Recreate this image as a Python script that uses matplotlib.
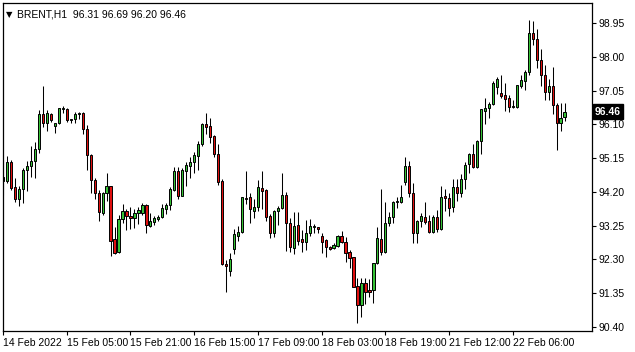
import numpy
import matplotlib
matplotlib.use('Agg')
import matplotlib.pyplot as plt
import matplotlib.transforms as mtransforms

plt.rcParams['font.family'] = ['Liberation Sans', 'DejaVu Sans']

#Hourly BRENT candles (open, high, low, close)
opens = [94.63, 94.51, 95.03, 94.33, 93.99, 94.27, 94.83, 94.92, 95.07, 95.42,
         96.39, 96.13, 96.39, 96.05, 96.13, 96.52, 96.52, 96.22, 96.24, 96.39,
         96.43, 95.96, 95.23, 94.53, 94.16, 93.61, 94.16, 94.36, 92.87, 92.52,
         93.43, 93.67, 93.52, 93.46, 93.60, 93.61, 93.82, 93.25, 93.34, 93.44,
         93.48, 93.71, 93.83, 94.25, 94.79, 94.09, 94.79, 94.93, 95.05, 95.21,
         95.54, 96.10, 96.05, 95.77, 95.28, 94.50, 92.17, 91.98, 92.59, 92.97,
         93.06, 94.02, 94.05, 93.67, 93.78, 94.30, 94.25, 93.52, 93.03, 93.67,
         93.74, 94.11, 93.32, 92.61, 93.27, 92.87, 92.80, 93.05, 93.20, 93.20,
         92.96, 92.85, 92.64, 92.61, 92.68, 92.96, 92.78, 92.50, 92.36, 91.55,
         91.01, 91.63, 91.44, 91.44, 92.19, 92.87, 92.50, 93.32, 93.48, 93.91,
         93.91, 94.48, 94.93, 94.16, 93.03, 93.38, 93.48, 93.38, 93.08, 93.50,
         93.15, 94.08, 94.02, 93.78, 94.33, 94.18, 94.55, 94.98, 95.26, 94.91,
         95.64, 96.48, 96.56, 96.66, 97.15, 96.97, 96.92, 96.83, 96.59, 96.59,
         97.18, 97.32, 97.58, 98.68, 98.51, 97.92, 97.50, 97.01, 97.17, 96.64,
         96.15, 96.31]
highs = [95.09, 95.21, 95.09, 94.58, 94.36, 94.86, 95.07, 95.49, 95.61, 96.50,
         97.17, 96.50, 96.43, 96.14, 96.57, 96.61, 96.55, 96.24, 96.44, 96.44,
         96.46, 96.08, 95.28, 94.58, 94.25, 94.20, 94.72, 94.36, 93.22, 93.55,
         93.86, 93.71, 93.77, 93.72, 93.78, 93.89, 93.86, 93.60, 93.52, 93.54,
         93.86, 93.88, 94.34, 94.91, 94.91, 94.86, 95.05, 95.19, 95.33, 95.64,
         96.13, 96.41, 96.29, 95.80, 95.54, 94.55, 92.28, 92.47, 93.17, 93.24,
         94.07, 94.78, 94.16, 93.99, 94.53, 94.78, 94.28, 93.58, 93.69, 93.80,
         94.72, 94.20, 93.46, 93.64, 93.64, 93.13, 93.41, 93.44, 93.30, 93.22,
         93.03, 92.87, 92.68, 92.75, 92.99, 93.11, 92.94, 92.57, 92.38, 91.77,
         91.77, 91.77, 91.74, 92.19, 93.20, 94.27, 93.92, 93.64, 93.95, 94.06,
         94.39, 95.17, 95.07, 94.44, 93.41, 93.60, 93.92, 93.55, 93.55, 93.69,
         94.36, 94.28, 94.16, 94.56, 94.56, 94.69, 95.05, 95.30, 95.54, 95.66,
         96.52, 96.83, 96.72, 97.31, 97.43, 97.48, 97.25, 96.92, 96.78, 97.22,
         97.48, 97.62, 99.03, 99.00, 98.79, 98.23, 97.78, 97.39, 97.72, 96.69,
         96.69, 96.69]
lows = [94.11, 94.44, 94.25, 93.92, 93.81, 93.88, 94.23, 94.63, 94.58, 95.30,
        96.03, 95.92, 96.17, 95.86, 96.10, 96.41, 96.17, 96.13, 96.13, 96.24,
        95.84, 94.83, 94.16, 94.00, 93.39, 93.55, 93.95, 92.40, 92.45, 92.47,
        93.33, 93.13, 93.15, 93.18, 93.30, 93.55, 93.05, 93.22, 93.27, 93.39,
        93.46, 93.57, 93.69, 94.22, 94.00, 94.09, 94.36, 94.60, 94.74, 94.81,
        95.49, 95.82, 95.58, 95.19, 94.39, 92.14, 91.39, 91.83, 92.44, 92.83,
        93.04, 93.86, 93.32, 93.46, 93.67, 93.72, 93.39, 92.89, 92.94, 93.27,
        93.71, 92.55, 92.52, 92.45, 92.71, 92.52, 92.57, 92.96, 93.05, 93.05,
        92.47, 92.36, 92.57, 92.59, 92.66, 92.75, 92.24, 92.07, 91.52, 90.50,
        90.69, 91.05, 91.25, 91.07, 92.17, 92.42, 92.47, 93.24, 93.32, 93.74,
        93.89, 94.39, 94.06, 92.75, 92.77, 93.20, 93.30, 93.03, 93.03, 93.08,
        93.13, 93.67, 93.53, 93.64, 93.94, 94.06, 94.28, 94.72, 94.88, 94.88,
        95.28, 96.11, 96.29, 96.64, 96.96, 96.83, 96.48, 96.45, 96.56, 96.56,
        97.13, 97.06, 97.50, 98.33, 97.70, 97.18, 96.78, 96.78, 96.38, 95.38,
        95.92, 96.20]
closes = [94.50, 95.03, 94.32, 93.99, 94.27, 94.81, 94.92, 95.07, 95.42, 96.39,
          96.13, 96.41, 96.22, 96.13, 96.55, 96.55, 96.22, 96.24, 96.39, 96.41,
          95.97, 95.25, 94.53, 94.16, 93.64, 94.16, 94.38, 92.83, 92.49, 93.43,
          93.67, 93.52, 93.46, 93.62, 93.69, 93.82, 93.26, 93.38, 93.46, 93.50,
          93.74, 93.83, 94.28, 94.79, 94.09, 94.81, 94.95, 95.05, 95.23, 95.54,
          96.10, 96.03, 95.75, 95.28, 94.48, 92.16, 92.12, 92.30, 93.01, 93.06,
          94.05, 94.00, 93.71, 93.78, 94.33, 94.23, 93.50, 93.05, 93.66, 93.75,
          94.11, 93.32, 92.64, 93.24, 92.83, 92.80, 93.03, 93.24, 93.24, 93.16,
          92.80, 92.66, 92.59, 92.71, 92.96, 92.80, 92.49, 92.35, 91.53, 91.01,
          91.63, 91.37, 91.37, 92.19, 92.89, 92.50, 93.32, 93.48, 93.92, 93.94,
          94.05, 94.93, 94.16, 93.03, 93.38, 93.52, 93.36, 93.08, 93.48, 93.15,
          94.05, 94.02, 93.75, 94.33, 94.18, 94.55, 94.95, 95.26, 94.91, 95.64,
          96.52, 96.57, 96.67, 97.25, 97.37, 96.90, 96.80, 96.59, 96.62, 97.20,
          97.34, 97.56, 98.68, 98.49, 97.92, 97.50, 97.01, 97.17, 96.64, 96.15,
          96.29, 96.46]

#Axis labels
price_ticks = [90.40, 91.35, 92.30, 93.25, 94.20, 95.15, 96.10, 97.05, 98.00, 98.95]
time_labels = ['14 Feb 2022', '15 Feb 05:00', '15 Feb 21:00', '16 Feb 15:00', '17 Feb 09:00',
               '18 Feb 03:00', '18 Feb 19:00', '21 Feb 12:00', '22 Feb 06:00']
time_label_bars = [0, 16, 32, 48, 64, 80, 96, 112, 128]

o = numpy.array(opens)
h = numpy.array(highs)
l = numpy.array(lows)
c = numpy.array(closes)
x = numpy.arange(len(o))
up = c >= o

fig = plt.figure(figsize=(6.35, 3.52), dpi=100)
ax = fig.add_axes([0.004, 0.06, 0.929, 0.931])

#Wicks
ax.vlines(x, l, h, color='black', linewidth=0.75, zorder=1)
#Bodies
body_low = numpy.minimum(o, c)
body_h = numpy.maximum(numpy.abs(c - o), 0.008)
colors = numpy.where(up, '#36c236', '#e01010')
ax.bar(x, body_h, bottom=body_low, width=0.55, color=colors,
       edgecolor='black', linewidth=0.7, zorder=2)

ax.set_xlim(-0.125, 148)
ax.set_ylim(90.29, 99.51)

#Price scale on the right
ax.yaxis.tick_right()
ax.set_yticks(price_ticks)
ax.set_yticklabels(['%.2f' % p for p in price_ticks], fontsize=7.5)
ax.tick_params(axis='y', length=3, width=0.8, pad=1.5)

#Time scale, labels start at the tick
ax.set_xticks(time_label_bars)
ax.set_xticklabels(time_labels, fontsize=7.5, ha='left')
ax.tick_params(axis='x', length=3, width=0.8, pad=2)

for s in ax.spines.values():
    s.set_linewidth(0.9)

#Symbol header
ax.text(0.006, 0.978, '\u25bc', transform=ax.transAxes, fontsize=6,
        va='top', ha='left', family='DejaVu Sans')
ax.text(0.025, 0.982, 'BRENT,H1  96.31 96.69 96.20 96.46', transform=ax.transAxes,
        fontsize=7.5, va='top', ha='left')

#Current price marker
trans = mtransforms.blended_transform_factory(ax.transAxes, ax.transData)
ax.text(1.004, closes[-1], '%.2f' % closes[-1], transform=trans, fontsize=7.5,
        color='white', fontweight='bold', va='center', ha='left',
        bbox=dict(facecolor='black', edgecolor='black', pad=1.5))

fig.savefig('out.png', dpi=100)
